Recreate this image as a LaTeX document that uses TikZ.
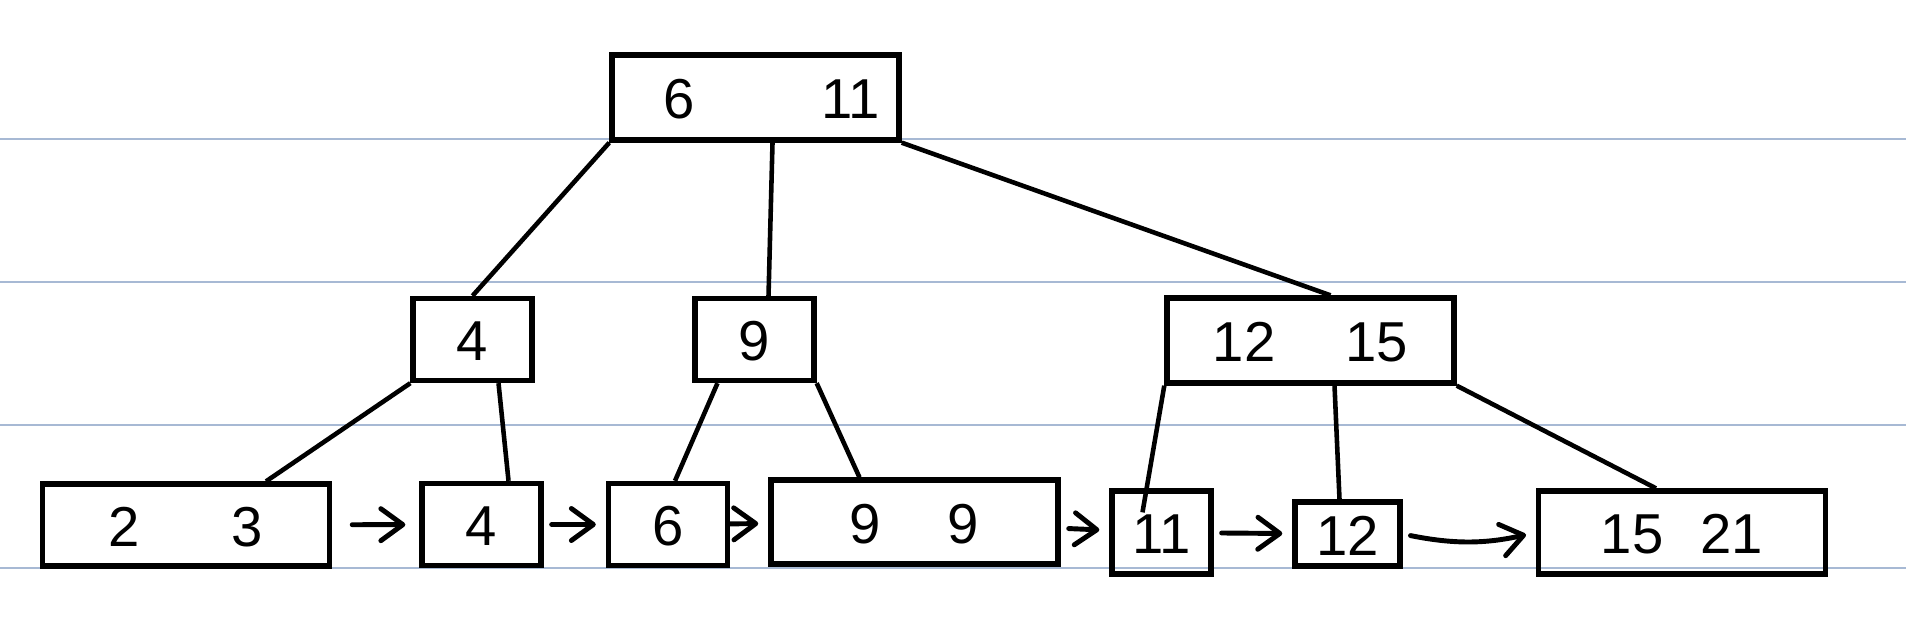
\documentclass[tikz,border=0pt]{standalone}
\usepackage{fontspec}
\setmainfont{Liberation Sans}
\usetikzlibrary{arrows.meta}
\definecolor{ruleblue}{HTML}{A7B9D4}

\begin{document}
\begin{tikzpicture}[x=0.01cm,y=-0.01cm,
  keybox/.style={draw,line width=1.5pt,minimum height=0.82cm,inner sep=0pt,
                 text height=1.2em,text depth=0pt,
                 font=\fontsize{16}{18}\selectfont},
  wide/.style={keybox,minimum width=2.87cm},
  narrow/.style={keybox,minimum width=1.19cm},
  treeedge/.style={line width=1.3pt},
  leafarrow/.style={-{Straight Barb[round,length=2.2mm,width=3.2mm]},line width=1.4pt,
                    line cap=round,shorten <=0.08cm,shorten >=0.1cm},
  paperline/.style={draw=ruleblue,line width=0.6pt}]
\useasboundingbox (0,0) rectangle (1906,624);
\foreach \y in {139,282,425,568}
  \draw[paperline] (0,\y) -- (1906,\y);
% inner nodes
\node[wide,minimum height=0.85cm] (root) at (755.5,97.5) {\hspace{9pt}6\hspace{36pt}11};
\node[narrow] (n4) at (472.5,339.5) {4};
\node[narrow] (n9) at (754.5,339.5) {9};
\node[wide,minimum height=0.85cm] (n1215) at (1310.5,340.5) {12\hspace{20pt}15};
% leaves
\node[wide] (l23) at (186,525) {2\hspace{26pt}3\hspace{18.5pt}};
\node[narrow] (l4) at (481.5,524.5) {4};
\node[narrow] (l6) at (668,524.5) {6};
\node[wide,minimum height=0.84cm] (l99) at (914.5,522) {9\hspace{19pt}9\hspace{20pt}};
\node[keybox,minimum width=0.99cm,minimum height=0.83cm] (l11) at (1161.5,532.5) {11};
\node[keybox,minimum width=1.05cm,minimum height=0.64cm] (l12) at (1347.5,534) {12};
\node[wide,minimum height=0.83cm] (l1521) at (1682,532.5) {15\hspace{10.5pt}21\hspace{11pt}};
% tree edges
\draw[treeedge] (root.south west) -- (n4.north);
\draw[treeedge] ([xshift=0.17cm]root.south) -- ([xshift=0.14cm]n9.north);
\draw[treeedge] (root.south east) -- ([xshift=0.2cm]n1215.north);
\draw[treeedge] (n4.south west) -- ([xshift=0.8cm]l23.north);
\draw[treeedge] ([xshift=0.26cm]n4.south) -- ([xshift=0.27cm]l4.north);
\draw[treeedge] ([xshift=-0.37cm]n9.south) -- ([xshift=0.07cm]l6.north);
\draw[treeedge] (n9.south east) -- ([xshift=-0.55cm]l99.north);
\draw[treeedge] (n1215.south west) -- ([xshift=-0.19cm,yshift=-0.24cm]l11.north);
\draw[treeedge] ([xshift=0.24cm]n1215.south) -- ([xshift=-0.08cm]l12.north);
\draw[treeedge] (n1215.south east) -- ([xshift=-0.26cm]l1521.north);
% leaf chain
\draw[leafarrow,shorten <=0.2cm,shorten >=0.14cm] (l23) -- (l4);
\draw[leafarrow] (l4) -- (l6);
\draw[leafarrow,shorten <=0pt] (l6) -- (l99);
\draw[leafarrow] (l99) -- (l11);
\draw[leafarrow] (l11) -- (l12);
\draw[leafarrow] (l12.east) to[bend right=12] (l1521.west);
\end{tikzpicture}
\end{document}
